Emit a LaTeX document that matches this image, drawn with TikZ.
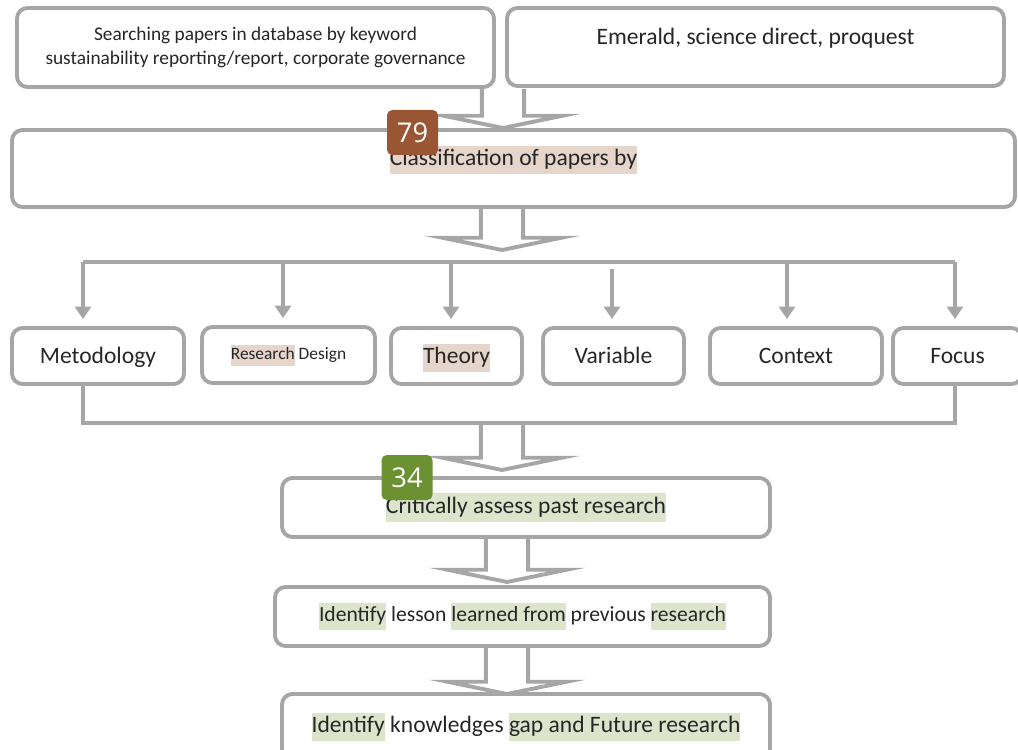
\documentclass[tikz,border=0pt]{standalone}
\usepackage{fontspec}
\setmainfont{Carlito}
\newfontfamily\badgefont{Open Sans}
\usetikzlibrary{arrows.meta,calc}

\definecolor{linegray}{HTML}{A6A6A6}
\definecolor{txtgray}{HTML}{262626}
\definecolor{hlpink}{HTML}{E6D5CB}
\definecolor{hlgreen}{HTML}{DCE5CC}
\definecolor{badgebrown}{HTML}{9A5533}
\definecolor{badgegreen}{HTML}{6B9132}

\setlength{\fboxsep}{0pt}
\newcommand\hlp[1]{\colorbox{hlpink}{\strut#1}}
\newcommand\hlg[1]{\colorbox{hlgreen}{\strut#1}}

% open block arrow: #1 start of shaft, #2 tip
\newcommand\fatarrow[2]{%
  \draw[fat] let \p1=#1, \p2=#2 in
    (\x2-12pt,\y1) -- (\x2-12pt,\y2+7pt) -- (\x2-34pt,\y2+7pt) -- (\x2,\y2)
    -- (\x2+34pt,\y2+7pt) -- (\x2+12pt,\y2+7pt) -- (\x2+12pt,\y1);}

\begin{document}
\begin{tikzpicture}[x=0.02cm,y=-0.02cm,
    box/.style 2 args={draw=linegray,line width=2.2pt,rounded corners=6pt,
      minimum width=#1*0.02cm,minimum height=#2*0.02cm,inner sep=0pt,
      text=txtgray,font=\fontsize{13.4}{16}\selectfont},
    badge/.style={rounded corners=3pt,minimum width=51*0.02cm,minimum height=45*0.02cm,
      inner sep=0pt,text=white,font=\badgefont\fontsize{15.5}{16}\selectfont},
    fat/.style={draw=linegray,line width=2.2pt},
    link/.style={draw=linegray,line width=2.2pt},
    arr/.style={link,-{Triangle[width=9pt,length=7pt]},shorten >=4pt}]

  \useasboundingbox (0,0) rectangle (1018,750);

  \node[box={477}{79},align=center,font=\fontsize{11}{13.6}\selectfont] (search) at (255.5,47.5)
    {Searching papers in database by keyword\\sustainability reporting/report, corporate governance};
  \node[box={497}{78},text height=10pt,text depth=13pt] (emerald) at (755.5,47)
    {Emerald, science direct, proquest};
  \node[box={1003}{77},text height=11.2pt,text depth=14.4pt] (class) at (513.5,168.5)
    {\hlp{Classification of papers by}};

  \begin{scope}[every node/.append style={text height=10pt,text depth=1pt}]
    \node[box={172}{56}] (meto)     at (98,356)    {Metodology};
    \node[box={173}{56},text height=8pt,text depth=3pt] (rd) at (288.5,355)
      {\fontsize{9.9}{12}\selectfont\hlp{Research} Design};
    \node[box={131}{56}] (theory)   at (456.5,356) {\hlp{Theory}};
    \node[box={141}{56}] (variable) at (613.5,356) {Variable};
    \node[box={172}{56}] (context)  at (796,356)   {Context};
    \node[box={129}{56}] (focus)    at (957.5,356) {Focus};
  \end{scope}

  \node[box={488}{59}] (critical) at (526,507.5)
    {\hlg{Critically assess past research}};
  \node[box={495}{59},font=\fontsize{12.3}{15}\selectfont] (lesson) at (522.5,616.5)
    {\hlg{Identify} lesson \hlg{learned from} previous \hlg{research}};
  \node[box={488}{66}] (gap) at (526,727)
    {\hlg{Identify} knowledges \hlg{gap and Future research}};

  \fatarrow{(503,0 |- search.south)}{(503,128)}
  \fatarrow{(502,0 |- class.south)}{(502,250)}
  \fatarrow{(502,423)}{(502,470)}
  \fatarrow{(507,0 |- critical.south)}{(507,582)}
  \fatarrow{(507,0 |- lesson.south)}{(507,694)}

  \draw[link] (83,262) -- (955,262);
  \foreach \x/\n in {83/meto,283/rd,451/theory,787/context,955/focus}
    \draw[arr] (\x,262) -- (\x,0 |- \n.north);
  \draw[arr] (612,269) -- (612,0 |- variable.north);
  \draw[link] (83,0 |- meto.south) -- (83,423) -- (955,423) -- (955,0 |- focus.south);

  \node[badge,fill=badgebrown] (b79) at (412.5,132.5) {79};
  \node[badge,fill=badgegreen] (b34) at (407,477.5) {34};

\end{tikzpicture}
\end{document}
